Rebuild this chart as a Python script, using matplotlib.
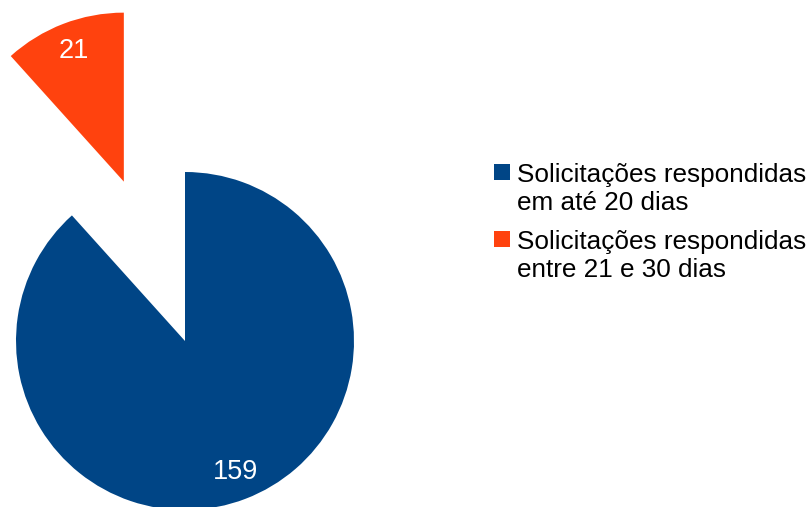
import matplotlib.pyplot as plt
from matplotlib.patches import Rectangle

plt.rcParams["font.family"] = ["Liberation Sans", "DejaVu Sans"]

# Data
labels = ["Solicitações respondidas\nentre 21 e 30 dias",
          "Solicitações respondidas\nem até 20 dias"]
values = [21, 159]
colors = ["#ff420e", "#004586"]

# Plotting (axes units: 1 = pie radius = 169 px)
fig = plt.figure(figsize=(8.10, 5.07), dpi=100)
ax = fig.add_axes([0, 0, 1, 1])
ax.pie(values, colors=colors, startangle=90, counterclock=True,
       explode=[1.01, 0], radius=1,
       autopct=lambda p: "%d" % round(p * sum(values) / 100.0),
       pctdistance=0.83,
       textprops=dict(color="white", fontsize=19.5))
ax.set_xlim(-185 / 169.0, 625 / 169.0)
ax.set_ylim(-166 / 169.0, 341 / 169.0)
ax.set_aspect("equal")
ax.axis("off")

# Legend, blue entry first
W, H = 810.0, 507.0
for i, (lab, col) in enumerate(zip(labels[::-1], colors[::-1])):
    top = 164 + 67 * i
    fig.patches.append(Rectangle((494 / W, 1 - (top + 16) / H), 16 / W, 16 / H,
                                 transform=fig.transFigure, facecolor=col,
                                 edgecolor="none"))
    fig.text(517 / W, 1 - (top - 1) / H, lab, fontsize=18.8, va="top",
             ha="left", linespacing=1.2)

fig.savefig("out.png", dpi=100)
